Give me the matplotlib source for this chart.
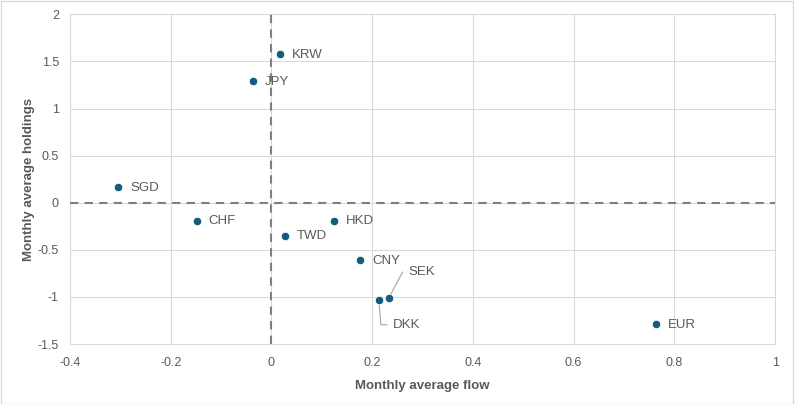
import matplotlib.pyplot as plt
from matplotlib.patches import Rectangle

plt.rcParams["font.family"] = ["Liberation Sans", "DejaVu Sans"]

currencies = ["KRW", "JPY", "SGD", "CHF", "TWD", "HKD", "CNY", "SEK", "DKK", "EUR"]
flow = [0.017, -0.037, -0.304, -0.148, 0.026, 0.125, 0.176, 0.233, 0.213, 0.764]
holdings = [1.576, 1.293, 0.165, -0.19, -0.35, -0.189, -0.609, -1.012, -1.030, -1.287]

x_ticks = [-0.4, -0.2, 0, 0.2, 0.4, 0.6, 0.8, 1]
x_tick_labels = ["-0.4", "-0.2", "0", "0.2", "0.4", "0.6", "0.8", "1"]
y_ticks = [-1.5, -1, -0.5, 0, 0.5, 1, 1.5, 2]
y_tick_labels = ["-1.5", "-1", "-0.5", "0", "0.5", "1", "1.5", "2"]

TEXT = "#595959"
GRID = "#D9D9D9"
DOT = "#135C7B"

fig = plt.figure(figsize=(7.95, 4.04), dpi=100)
ax = fig.add_axes([0.088, 0.1485, 0.887, 0.816])

# chart border
fig.patches.append(Rectangle((0.001, 0.001), 0.997, 0.996, transform=fig.transFigure,
                             fill=False, edgecolor=GRID, linewidth=1))

ax.scatter(flow, holdings, s=36, color=DOT, edgecolor="white", linewidth=0.5, zorder=4)

ax.axhline(0, color="#7F7F7F", linestyle=(0, (4, 3)), linewidth=1.5, zorder=3)
ax.axvline(0, color="#7F7F7F", linestyle=(0, (4, 3)), linewidth=1.5, zorder=3)

leader = {
    "SEK": ((14, 19), 62),
    "DKK": ((10, -18), 95),
}
for name, fx, hy in zip(currencies, flow, holdings):
    if name in leader:
        offset, angle_b = leader[name]
        ax.annotate(name, (fx, hy), xytext=offset, textcoords="offset points",
                    ha="left", va="center", fontsize=9.5, color=TEXT,
                    arrowprops=dict(arrowstyle="-", color="#A6A6A6", linewidth=0.8,
                                    relpos=(0, 0.5), shrinkA=2, shrinkB=3,
                                    connectionstyle=f"angle,angleA=0,angleB={angle_b},rad=0"))
    else:
        ax.annotate(name, (fx, hy), xytext=(8.5, -0.5), textcoords="offset points",
                    ha="left", va="center", fontsize=9.5, color=TEXT)

ax.set_xlim(-0.4, 1)
ax.set_ylim(-1.5, 2)
ax.set_xticks(x_ticks)
ax.set_xticklabels(x_tick_labels)
ax.set_yticks(y_ticks)
ax.set_yticklabels(y_tick_labels)
ax.tick_params(length=0, labelsize=9, labelcolor=TEXT)
ax.tick_params(axis="x", pad=9)
ax.tick_params(axis="y", pad=8)
ax.grid(True, color=GRID, linewidth=0.75)
ax.set_axisbelow(True)
for sp in ax.spines.values():
    sp.set_color(GRID)
    sp.set_linewidth(0.75)

ax.set_xlabel("Monthly average flow", fontsize=9.5, fontweight="bold", color=TEXT, labelpad=8)
ax.set_ylabel("Monthly average holdings", fontsize=9.5, fontweight="bold", color=TEXT, labelpad=2)

fig.savefig("out.png", dpi=100)
